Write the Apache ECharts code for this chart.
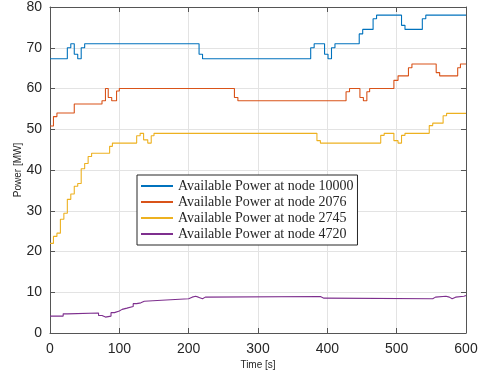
<!DOCTYPE html>
<html>
<head>
<meta charset="utf-8">
<script src="https://cdn.jsdelivr.net/npm/echarts@6/dist/echarts.min.js"></script>
<style>
  html, body { margin: 0; padding: 0; background: #fff; }
  #chart { width: 484px; height: 378px; }
</style>
</head>
<body>
<div id="chart"></div>
<script>
// [time s, power MW] step points
const node10000 = [[0,67.3],[25,70],[30,71],[35,68.4],[40,67.3],[45,70],[50,71],[215,68.4],[220,67.3],[376,70],[381,71],[396,68.4],[401,67.3],[406,70],[411,71],[446,73.4],[451,74.5],[466,77.1],[471,78],[507,75.5],[512,74.5],[537,77.1],[542,78],[600,78]];
const node2076 = [[0,50.8],[5,53.1],[10,54],[35,56.2],[75,57],[80,60],[84,57.8],[89,57],[96,59.4],[100,60],[266,57.8],[271,57],[427,59.2],[432,60],[447,57.8],[452,57],[457,59.2],[461,60],[496,62],[502,63.1],[517,65.1],[522,66],[557,63.9],[562,63.1],[588,65.1],[592,66],[600,66]];
const node2745 = [[0,22],[5,23.7],[10,24.5],[15,27.9],[20,29.4],[25,32.8],[30,34.1],[35,36],[40,36.7],[45,40.3],[50,41.6],[55,43.3],[60,44.1],[86,45.8],[90,46.6],[125,48.4],[130,49],[135,47.4],[141,46.6],[146,48.4],[150,49],[385,47.2],[390,46.6],[477,48.5],[482,49],[496,47.2],[502,46.6],[507,48.5],[512,49],[547,50.9],[552,51.5],[567,53.3],[572,53.9],[600,53.9]];
const node4720 = [[0,4.15],[19,4.7],[25,4.9],[70,4.3],[75,3.9],[80,4.15],[88,5.0],[93,5.4],[100,5.8],[104,6.1],[111,6.5],[120,7.2],[125,7.4],[131,7.8],[136,8.05],[161,8.4],[200,8.8],[205,9.0],[210,8.8],[214,8.4],[220,8.8],[224,8.95],[390,8.55],[395,8.4],[552,8.8],[556,9.0],[571,8.8],[576,8.4],[580,8.8],[585,9.0],[597,9.2],[600,9.2]];

const seriesNames = ['Available Power at node 10000', 'Available Power at node 2076',
  'Available Power at node 2745', 'Available Power at node 4720'];
const seriesData = [node10000, node2076, node2745, node4720];
const colors = ['#0072BD', '#D95319', '#EDB120', '#7E2F8E'];

const axisCol = '#555';
const tickFont = { color: '#262626', fontSize: 14, fontFamily: 'Liberation Sans, Arial, sans-serif' };

const myChart = echarts.init(document.getElementById('chart'));

// secondary axes just draw the box with inward ticks
function boxAxis(pos, isX) {
  return {
    type: 'value', position: pos, min: 0, max: isX ? 600 : 80, interval: isX ? 100 : 10,
    axisLine: { show: true, onZero: false, lineStyle: { color: axisCol, width: 1 } },
    axisTick: { show: true, inside: true, length: 5, lineStyle: { color: axisCol } },
    axisLabel: { show: false },
    splitLine: { show: false }
  };
}

myChart.setOption({
  animation: false,
  color: colors,
  grid: { left: 50, right: 18, top: 5, bottom: 45, containLabel: false },
  legend: {
    orient: 'vertical', left: 137, top: 175,
    padding: [4, 4, 4, 4], itemGap: 2,
    itemWidth: 32, itemHeight: 2, icon: 'rect',
    backgroundColor: '#fff', borderColor: '#262626', borderWidth: 1,
    textStyle: { fontFamily: 'Liberation Serif, DejaVu Serif, serif', fontSize: 14, color: '#262626', lineHeight: 14 },
    data: seriesNames
  },
  xAxis: [{
    type: 'value', min: 0, max: 600, interval: 100,
    name: 'Time [s]', nameLocation: 'middle', nameGap: 27, nameMoveOverlap: false,
    nameTextStyle: { fontSize: 10, color: '#262626', fontFamily: 'Liberation Sans, Arial, sans-serif' },
    axisLine: { show: true, onZero: false, lineStyle: { color: axisCol, width: 1 } },
    axisTick: { show: true, inside: true, length: 5, lineStyle: { color: axisCol } },
    axisLabel: Object.assign({ margin: 9 }, tickFont),
    splitLine: { show: true, lineStyle: { color: '#e3e3e3', width: 1 } }
  }, boxAxis('top', true)],
  yAxis: [{
    type: 'value', min: 0, max: 80, interval: 10,
    name: 'Power [MW]', nameLocation: 'middle', nameGap: 32, nameMoveOverlap: false,
    nameTextStyle: { fontSize: 10, color: '#262626', fontFamily: 'Liberation Sans, Arial, sans-serif', verticalAlign: 'middle' },
    axisLine: { show: true, onZero: false, lineStyle: { color: axisCol, width: 1 } },
    axisTick: { show: true, inside: true, length: 5, lineStyle: { color: axisCol } },
    axisLabel: Object.assign({ margin: 8 }, tickFont),
    splitLine: { show: true, lineStyle: { color: '#e3e3e3', width: 1 } }
  }, boxAxis('right', false)],
  series: seriesData.map((d, i) => ({
    name: seriesNames[i], type: 'line', step: 'end', data: d,
    showSymbol: false, lineStyle: { width: 1.1, color: colors[i] },
    itemStyle: { color: colors[i] }
  }))
});
</script>
</body>
</html>
